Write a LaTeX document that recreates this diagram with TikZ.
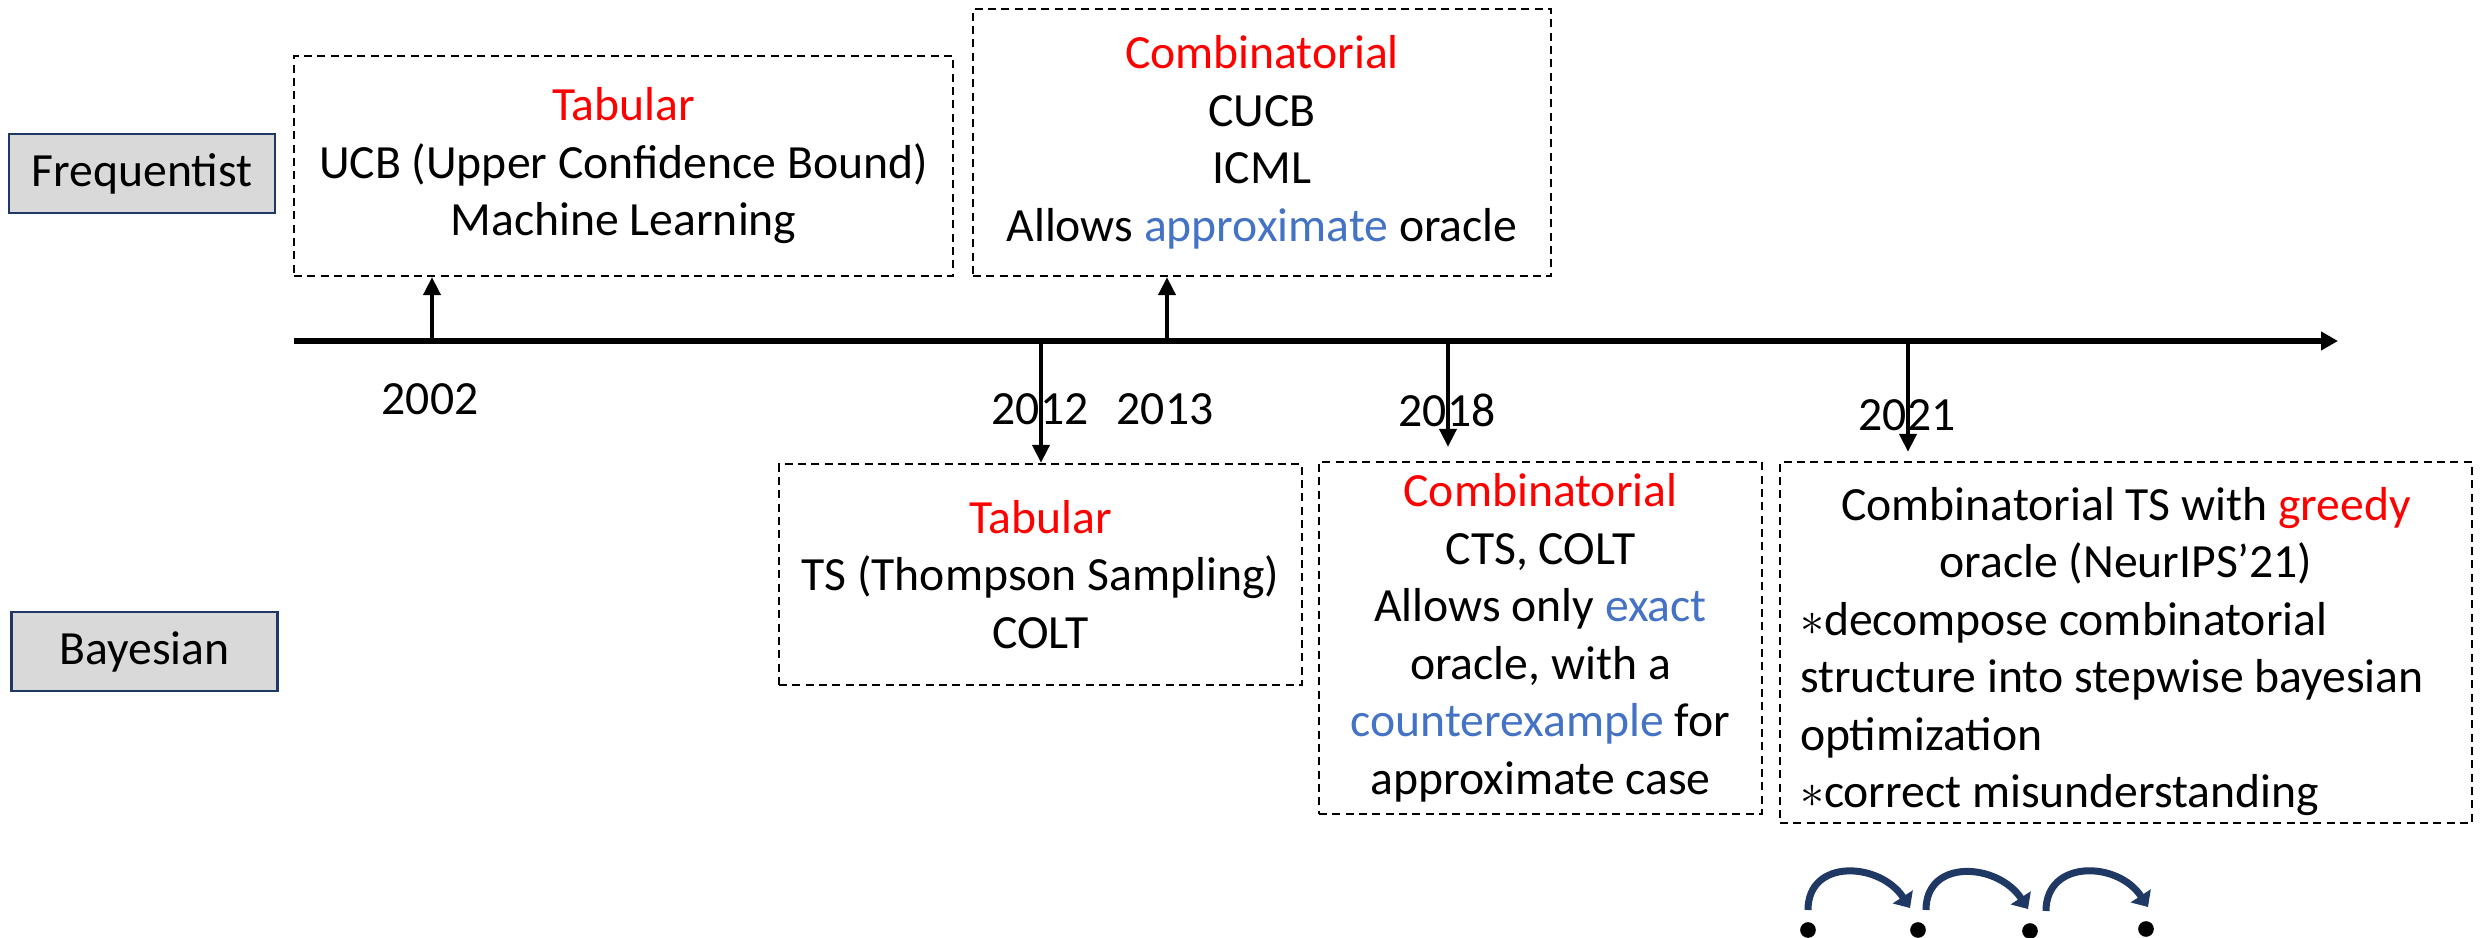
\documentclass[tikz,border=0pt]{standalone}
\usepackage{fontspec}
\setmainfont{Carlito}
\usetikzlibrary{arrows.meta,calc}
\definecolor{tred}{HTML}{FF0000}
\definecolor{tblue}{HTML}{4472C4}
\definecolor{navy}{HTML}{203864}
\definecolor{lgray}{HTML}{D9D9D9}
\setlength\parindent{0pt}
\begin{document}
\begin{tikzpicture}[x=0.3pt,y=-0.3pt,
  every node/.style={font=\fontsize{14.3pt}{17.25pt}\selectfont, inner sep=0pt},
  dbox/.style={draw=black, line width=0.7pt, dash pattern=on 2.4pt off 1.6pt, align=center},
  lbl/.style={draw=navy, fill=lgray, line width=0.8pt, minimum width=79.8pt, minimum height=23.7pt},
  yr/.style={anchor=base},
  yarrow/.style={line width=1.2pt, -{Triangle[length=5.4pt,width=5.1pt]}},
  tline/.style={line width=1.65pt, -{Triangle[length=5.1pt,width=5.4pt]}},
  curv/.style={draw=navy, line width=2.1pt, -{Triangle[length=4pt,width=7pt]}},
  dot/.style={circle, fill=black, minimum size=4.7pt}
]
\useasboundingbox (0,0) rectangle (2481,938);

% side labels
\node[lbl] (freq) at (142,173.5) {Frequentist};
\node[lbl] (bayes) at (144.5,651.5) {Bayesian};

% timeline
\coordinate (tl0) at (294,341);
\coordinate (tl1) at (2338,341);
\draw[tline] (tl0) -- (tl1);
\coordinate (t2002) at (432,341);
\coordinate (t2012) at (1041,341);
\coordinate (t2013) at (1167,341);
\coordinate (t2018) at (1448,341);
\coordinate (t2021) at (1908,341);

% year labels
\node[yr] (y2002) at (430,415) {2002};
\node[yr] (y2012) at (1040,425) {2012};
\node[yr] (y2013) at (1165,425) {2013};
\node[yr] (y2018) at (1447,427) {2018};
\node[yr] (y2021) at (1907,431) {2021};

% boxes
\node[dbox, minimum width=197.7pt, minimum height=66pt] (b2002) at (623.5,166)
  {\textcolor{tred}{Tabular}\\UCB (Upper Confidence Bound)\\Machine Learning};
\node[dbox, minimum width=173.4pt, minimum height=80.1pt] (b2013) at (1262,142.5)
  {\textcolor{tred}{Combinatorial}\\CUCB\\ICML\\Allows \textcolor{tblue}{approximate} oracle};
\node[dbox, minimum width=156.9pt, minimum height=66.3pt] (b2012) at (1040.5,574.5)
  {\textcolor{tred}{Tabular}\\TS (Thompson Sampling)\\COLT};
\node[dbox, minimum width=132.9pt, minimum height=105.6pt] (b2018) at (1540.5,638)
  {\textcolor{tred}{Combinatorial}\\CTS, COLT\\Allows only \textcolor{tblue}{exact}\\oracle, with a\\\textcolor{tblue}{counterexample} for\\approximate case};
\node[dbox, minimum width=207.6pt, minimum height=108.3pt] (b2021) at (2126,642.5) {};
\node[align=left] (txt2021) at ($(b2021.center)+(0,9)$)
  {\makebox[195.6pt][c]{Combinatorial TS with \textcolor{tred}{greedy}}\\
   \makebox[195.6pt][c]{oracle (NeurIPS’21)}\\
   $\ast$decompose combinatorial\\structure into stepwise bayesian\\optimization\\$\ast$correct misunderstanding};

% year arrows
\draw[yarrow] (t2002) -- (t2002 |- b2002.south);
\draw[yarrow] (t2013) -- (t2013 |- b2013.south);
\draw[yarrow] (t2012) -- (t2012 |- b2012.north);
\draw[yarrow, shorten >=4.2pt] (t2018) -- (t2018 |- b2018.north);
\draw[yarrow, shorten >=2.7pt] (t2021) -- (t2021 |- b2021.north);

% stepwise dots and curved arrows
\node[dot] (d1) at (1808,930) {};
\node[dot] (d2) at (1918,930) {};
\node[dot] (d3) at (2030,931) {};
\node[dot] (d4) at (2146,929) {};
\draw[curv] ($(d1)+(0,-20)$) .. controls +(0,-52) and +(-30,-46) .. ($(d2)+(-8,-22)$);
\draw[curv] ($(d2)+(8,-20)$) .. controls +(0,-52) and +(-30,-46) .. ($(d3)+(-2,-22)$);
\draw[curv] ($(d3)+(16,-20)$) .. controls +(0,-52) and +(-30,-46) .. ($(d4)+(2,-22)$);
\end{tikzpicture}
\end{document}
